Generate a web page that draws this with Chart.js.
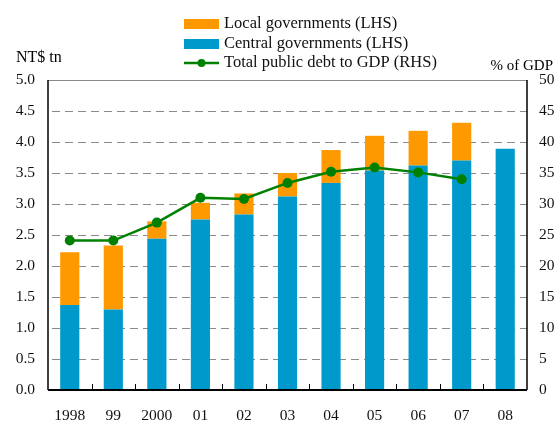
<!DOCTYPE html>
<html><head><meta charset="utf-8">
<script src="https://cdn.jsdelivr.net/npm/chart.js@4.4.1/dist/chart.umd.min.js"></script>
<style>html,body{margin:0;padding:0;background:#fff}#wrap{width:558px;height:421px}</style>
</head><body><div id="wrap"><canvas id="c" width="558" height="421"></canvas></div>
<script>
const years = ['1998','99','2000','01','02','03','04','05','06','07','08'];
const central = [1.37,1.30,2.44,2.75,2.83,3.12,3.34,3.54,3.62,3.70,3.89];
const totalDebt = [2.22,2.33,2.72,3.02,3.17,3.50,3.87,4.10,4.18,4.31,3.89];
const local = totalDebt.map((t,i)=>+(t-central[i]).toFixed(2));
const debtToGdp = [24.1,24.1,27.0,31.0,30.8,33.4,35.2,35.9,35.1,34.0,null];
const leftTicks = [0,0.5,1,1.5,2,2.5,3,3.5,4,4.5,5];
const rightTicks = [0,5,10,15,20,25,30,35,40,45,50];

const FONT = "'Liberation Serif', 'Times New Roman', serif";
const ORANGE = '#FF9900', BLUE = '#0099CC', GREEN = '#008000';

const deco = {
  id:'deco',
  beforeDatasetsDraw(chart){
    const {ctx, chartArea:a, scales} = chart;
    const y = scales.y;
    ctx.save();
    ctx.strokeStyle = '#8a8a8a'; ctx.lineWidth = 1;
    ctx.setLineDash([8,5]);
    leftTicks.forEach(v=>{
      if (v===0 || v===5) return;
      const py = Math.round(y.getPixelForValue(v))+0.5;
      ctx.beginPath(); ctx.moveTo(a.left+4, py); ctx.lineTo(a.right, py); ctx.stroke();
    });
    ctx.setLineDash([]);
    ctx.beginPath(); ctx.moveTo(a.left, a.top+0.5); ctx.lineTo(a.right, a.top+0.5); ctx.stroke();
    ctx.restore();
  },
  afterDatasetsDraw(chart){
    const {ctx, chartArea:a, scales} = chart;
    const x = scales.x;
    ctx.save();
    ctx.strokeStyle = '#000';
    ctx.lineWidth = 1.5;
    ctx.beginPath(); ctx.moveTo(a.left, a.top); ctx.lineTo(a.left, a.bottom); ctx.stroke();
    ctx.beginPath(); ctx.moveTo(a.right, a.top); ctx.lineTo(a.right, a.bottom); ctx.stroke();
    ctx.lineWidth = 2;
    ctx.beginPath(); ctx.moveTo(a.left, a.bottom); ctx.lineTo(a.right, a.bottom); ctx.stroke();
    ctx.lineWidth = 1;
    const w = (x.getPixelForValue(1)-x.getPixelForValue(0));
    for (let i=1;i<years.length;i++){
      const px = Math.round(x.getPixelForValue(i)-w/2)+0.5;
      ctx.beginPath(); ctx.moveTo(px, a.bottom); ctx.lineTo(px, a.bottom-6); ctx.stroke();
    }
    // axis titles
    ctx.fillStyle = '#000';
    ctx.textBaseline = 'middle';
    ctx.font = '16px ' + FONT;
    ctx.textAlign = 'left';
    ctx.fillText('NT$ tn', 16, 58);
    ctx.font = '15px ' + FONT;
    ctx.textAlign = 'right';
    ctx.fillText('% of GDP', 553, 66);
    // legend
    ctx.font = '16.5px ' + FONT;
    const lx = 184, tx = 224;
    const rows = [
      {t:'Local governments (LHS)', c:ORANGE, y:24, type:'box'},
      {t:'Central governments (LHS)', c:BLUE, y:44, type:'box'},
      {t:'Total public debt to GDP (RHS)', c:GREEN, y:63, type:'line'}
    ];
    rows.forEach(r=>{
      if (r.type==='box'){
        ctx.fillStyle = r.c; ctx.fillRect(lx, r.y-5, 35, 10);
      } else {
        ctx.strokeStyle = r.c; ctx.lineWidth = 2.5;
        ctx.beginPath(); ctx.moveTo(lx, r.y); ctx.lineTo(lx+35, r.y); ctx.stroke();
        ctx.fillStyle = r.c; ctx.beginPath(); ctx.arc(lx+17.5, r.y, 4, 0, Math.PI*2); ctx.fill();
      }
      ctx.fillStyle = '#111'; ctx.textAlign='left';
      ctx.fillText(r.t, tx, r.y);
    });
    ctx.restore();
  }
};

new Chart(document.getElementById('c'), {
  data: {
    labels: years,
    datasets: [
      {type:'bar', label:'Central governments (LHS)', data:central, backgroundColor:BLUE, stack:'s', order:1, yAxisID:'y', barPercentage:0.44, categoryPercentage:1.0},
      {type:'bar', label:'Local governments (LHS)', data:local, backgroundColor:ORANGE, stack:'s', order:1, yAxisID:'y', barPercentage:0.44, categoryPercentage:1.0},
      {type:'line', label:'Total public debt to GDP (RHS)', data:debtToGdp, borderColor:GREEN, backgroundColor:GREEN, borderWidth:2.5, pointRadius:5, pointBackgroundColor:GREEN, pointBorderWidth:0, tension:0, order:0, yAxisID:'y1'}
    ]
  },
  options: {
    responsive:false, animation:false,
    layout:{padding:{top:80, left:0, right:0, bottom:0}},
    plugins:{legend:{display:false}, tooltip:{enabled:false}},
    scales:{
      x:{stacked:true, offset:true, grid:{display:false, drawTicks:false}, border:{display:false},
         ticks:{color:'#111', font:{family:FONT, size:15.5}, padding:17, maxRotation:0, autoSkip:false},
         afterFit(s){ s.height = 31; }},
      y:{stacked:true, position:'left', min:0, max:5, grid:{display:false, drawTicks:false}, border:{display:false},
         afterBuildTicks(s){ s.ticks = leftTicks.map(v=>({value:v})); },
         ticks:{color:'#111', font:{family:FONT, size:15.5}, padding:13, callback:v=>Number(v).toFixed(1)},
         afterFit(s){ s.width = 48; }},
      y1:{position:'right', min:0, max:50, grid:{display:false, drawTicks:false}, border:{display:false},
         afterBuildTicks(s){ s.ticks = rightTicks.map(v=>({value:v})); },
         ticks:{color:'#111', font:{family:FONT, size:15.5}, padding:12},
         afterFit(s){ s.width = 31; }}
    }
  },
  plugins:[deco]
});
</script></body></html>
